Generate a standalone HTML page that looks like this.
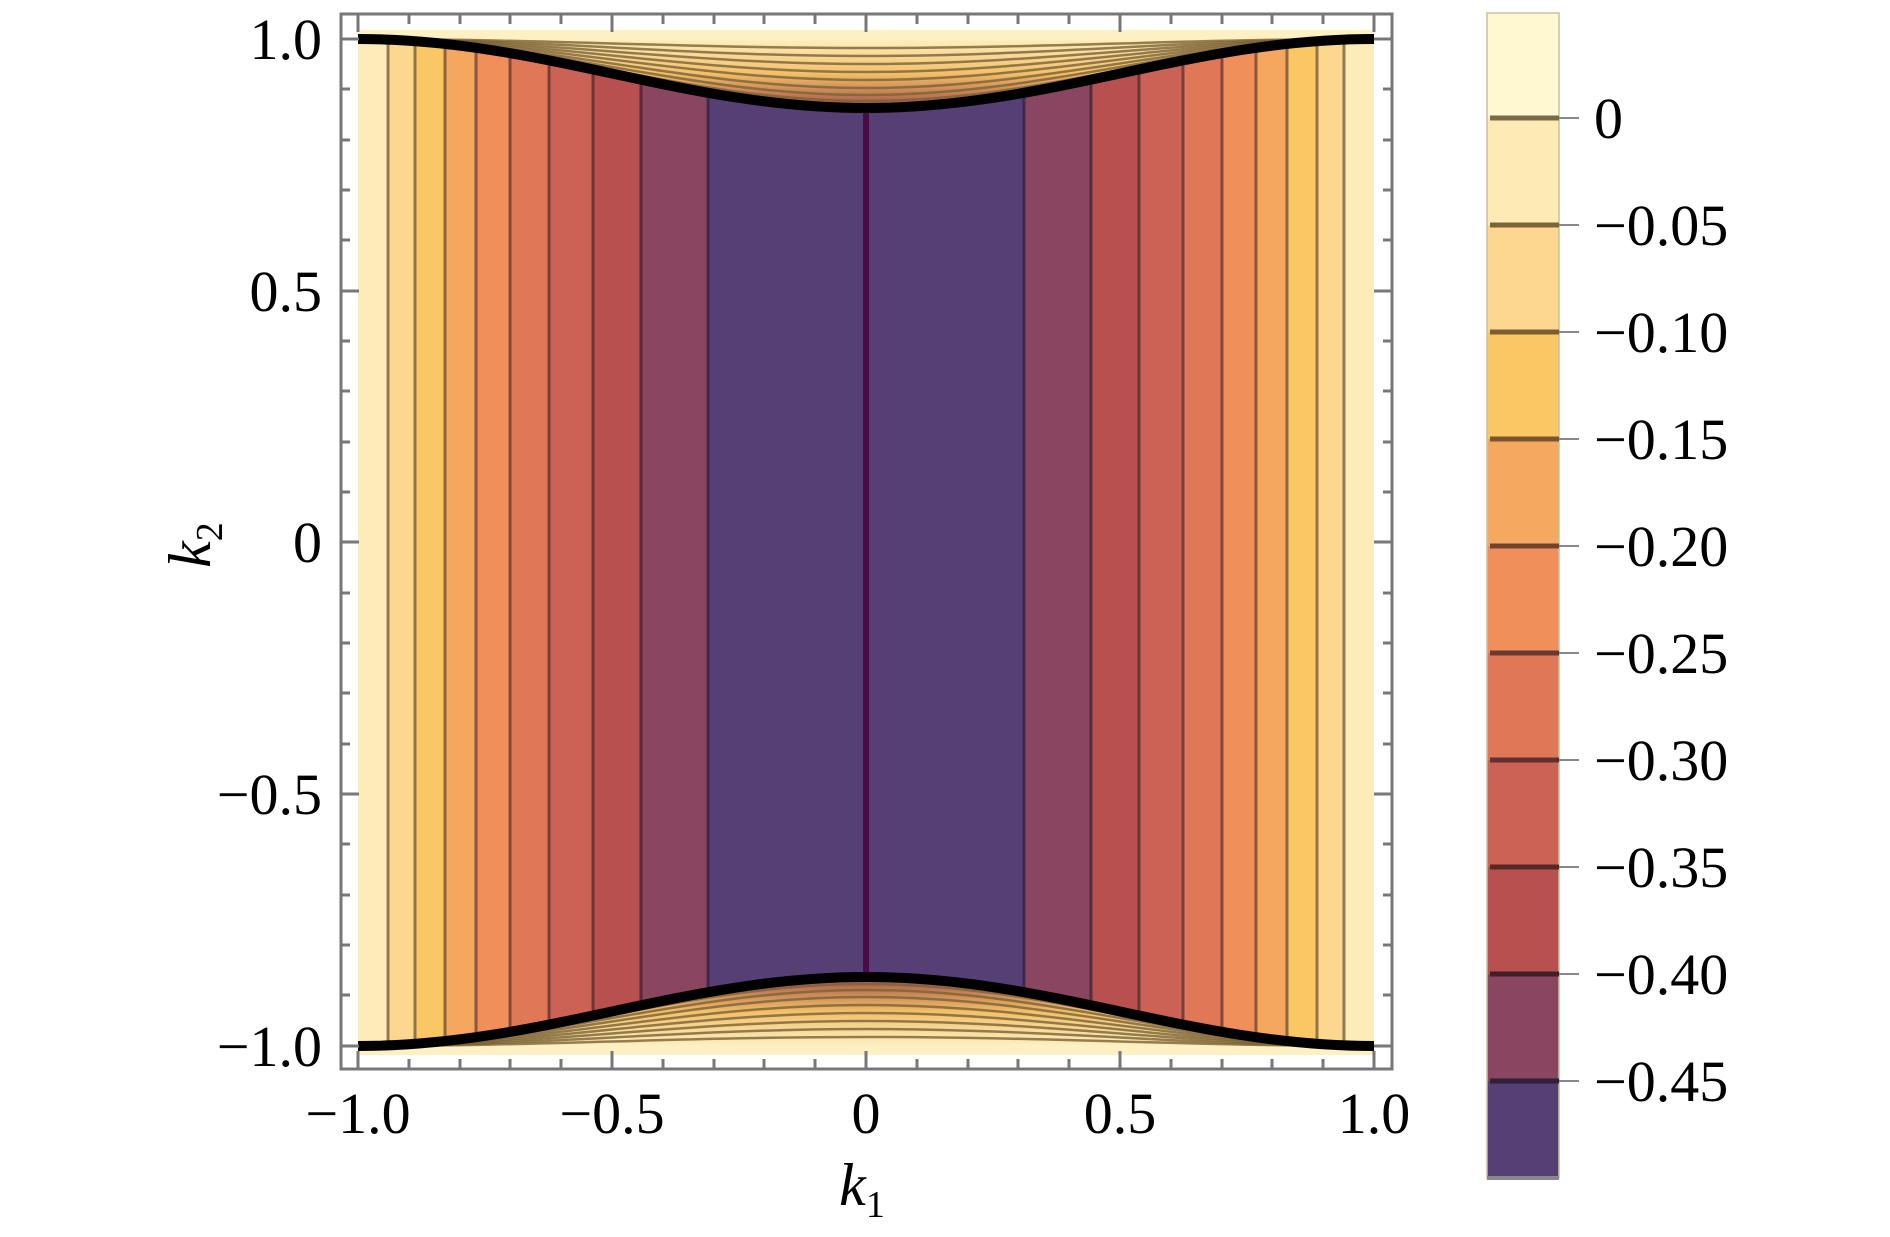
<!DOCTYPE html>
<html><head><meta charset="utf-8"><style>
html,body{margin:0;padding:0;background:#fff;}
svg{display:block;}
text{font-family:"Liberation Serif",serif;fill:#000;}
</style></head><body>
<svg width="1890" height="1237" viewBox="0 0 1890 1237" xmlns="http://www.w3.org/2000/svg">
<defs>
<linearGradient id="gt" x1="0" y1="39" x2="0" y2="108" gradientUnits="userSpaceOnUse">
<stop offset="0" stop-color="#fdf0c2"/><stop offset="0.5" stop-color="#f3c06a"/><stop offset="1" stop-color="#a05048"/>
</linearGradient>
<linearGradient id="gb" x1="0" y1="1046" x2="0" y2="977" gradientUnits="userSpaceOnUse">
<stop offset="0" stop-color="#fdf0c2"/><stop offset="0.5" stop-color="#f3c06a"/><stop offset="1" stop-color="#a05048"/>
</linearGradient>
</defs>
<g>
<rect x="358" y="39" width="30" height="1007" fill="#fdecba"/>
<rect x="388" y="39" width="27" height="1007" fill="#fdd690"/>
<rect x="415" y="39" width="30" height="1007" fill="#fbc765"/>
<rect x="445" y="39" width="31" height="1007" fill="#f5a760"/>
<rect x="476" y="39" width="34" height="1007" fill="#f08f5a"/>
<rect x="510" y="39" width="39" height="1007" fill="#e07858"/>
<rect x="549" y="39" width="44" height="1007" fill="#cc6255"/>
<rect x="593" y="39" width="48" height="1007" fill="#b85050"/>
<rect x="641" y="39" width="67" height="1007" fill="#8a4560"/>
<rect x="708" y="39" width="316" height="1007" fill="#553f75"/>
<rect x="1024" y="39" width="67" height="1007" fill="#8a4560"/>
<rect x="1091" y="39" width="48" height="1007" fill="#b85050"/>
<rect x="1139" y="39" width="44" height="1007" fill="#cc6255"/>
<rect x="1183" y="39" width="39" height="1007" fill="#e07858"/>
<rect x="1222" y="39" width="34" height="1007" fill="#f08f5a"/>
<rect x="1256" y="39" width="31" height="1007" fill="#f5a760"/>
<rect x="1287" y="39" width="30" height="1007" fill="#fbc765"/>
<rect x="1317" y="39" width="27" height="1007" fill="#fdd690"/>
<rect x="1344" y="39" width="30" height="1007" fill="#fdecba"/>
</g>
<g stroke-width="3" stroke-opacity="0.75">
<line x1="388" y1="39" x2="388" y2="1046" stroke="#6a5a35"/>
<line x1="415" y1="39" x2="415" y2="1046" stroke="#6a5a35"/>
<line x1="445" y1="39" x2="445" y2="1046" stroke="#6a4a30"/>
<line x1="476" y1="39" x2="476" y2="1046" stroke="#6a4030"/>
<line x1="510" y1="39" x2="510" y2="1046" stroke="#603530"/>
<line x1="549" y1="39" x2="549" y2="1046" stroke="#5a3030"/>
<line x1="593" y1="39" x2="593" y2="1046" stroke="#502828"/>
<line x1="641" y1="39" x2="641" y2="1046" stroke="#402030"/>
<line x1="708" y1="39" x2="708" y2="1046" stroke="#302040"/>
<line x1="1024" y1="39" x2="1024" y2="1046" stroke="#302040"/>
<line x1="1091" y1="39" x2="1091" y2="1046" stroke="#402030"/>
<line x1="1139" y1="39" x2="1139" y2="1046" stroke="#502828"/>
<line x1="1183" y1="39" x2="1183" y2="1046" stroke="#5a3030"/>
<line x1="1222" y1="39" x2="1222" y2="1046" stroke="#603530"/>
<line x1="1256" y1="39" x2="1256" y2="1046" stroke="#6a4030"/>
<line x1="1287" y1="39" x2="1287" y2="1046" stroke="#6a4a30"/>
<line x1="1317" y1="39" x2="1317" y2="1046" stroke="#6a5a35"/>
<line x1="1344" y1="39" x2="1344" y2="1046" stroke="#6a5a35"/>
</g>
<line x1="866" y1="39" x2="866" y2="1046" stroke="#4a0a45" stroke-width="6"/>
<path d="M358,30 L358,39 C543,39 681,108 866,108 C1051,108 1189,39 1374,39 L1374,30 Z" fill="url(#gt)"/>
<path d="M358,1055 L358,1046 C543,1046 681,977 866,977 C1051,977 1189,1046 1374,1046 L1374,1055 Z" fill="url(#gb)"/>
<g fill="none" stroke="#7a6235" stroke-width="2.5" stroke-opacity="0.8">
<path d="M358,39 C543,39 681,48 866,48 C1051,48 1189,39 1374,39"/>
<path d="M358,39 C543,39 681,56 866,56 C1051,56 1189,39 1374,39"/>
<path d="M358,39 C543,39 681,64 866,64 C1051,64 1189,39 1374,39"/>
<path d="M358,39 C543,39 681,72 866,72 C1051,72 1189,39 1374,39"/>
<path d="M358,39 C543,39 681,80 866,80 C1051,80 1189,39 1374,39"/>
<path d="M358,39 C543,39 681,88 866,88 C1051,88 1189,39 1374,39"/>
<path d="M358,39 C543,39 681,95 866,95 C1051,95 1189,39 1374,39"/>
<path d="M358,39 C543,39 681,101 866,101 C1051,101 1189,39 1374,39"/>
<path d="M358,1046 C543,1046 681,1037 866,1037 C1051,1037 1189,1046 1374,1046"/>
<path d="M358,1046 C543,1046 681,1029 866,1029 C1051,1029 1189,1046 1374,1046"/>
<path d="M358,1046 C543,1046 681,1021 866,1021 C1051,1021 1189,1046 1374,1046"/>
<path d="M358,1046 C543,1046 681,1013 866,1013 C1051,1013 1189,1046 1374,1046"/>
<path d="M358,1046 C543,1046 681,1005 866,1005 C1051,1005 1189,1046 1374,1046"/>
<path d="M358,1046 C543,1046 681,997 866,997 C1051,997 1189,1046 1374,1046"/>
<path d="M358,1046 C543,1046 681,990 866,990 C1051,990 1189,1046 1374,1046"/>
<path d="M358,1046 C543,1046 681,984 866,984 C1051,984 1189,1046 1374,1046"/>
</g>
<g fill="none" stroke="#000" stroke-width="10">
<path d="M358,39 C543,39 681,108 866,108 C1051,108 1189,39 1374,39"/>
<path d="M358,1046 C543,1046 681,977 866,977 C1051,977 1189,1046 1374,1046"/>
</g>
<rect x="341" y="14" width="1051" height="1055" fill="none" stroke="#777" stroke-width="3"/>
<g stroke="#777" stroke-width="3">
<path d="M358,1069v-18M612,1069v-18M866,1069v-18M1120,1069v-18M1374,1069v-18M358,14v18M612,14v18M866,14v18M1120,14v18M1374,14v18"/>
<path d="M409,1069v-10M460,1069v-10M510,1069v-10M561,1069v-10M663,1069v-10M714,1069v-10M764,1069v-10M815,1069v-10M917,1069v-10M968,1069v-10M1018,1069v-10M1069,1069v-10M1171,1069v-10M1222,1069v-10M1272,1069v-10M1323,1069v-10M409,14v10M460,14v10M510,14v10M561,14v10M663,14v10M714,14v10M764,14v10M815,14v10M917,14v10M968,14v10M1018,14v10M1069,14v10M1171,14v10M1222,14v10M1272,14v10M1323,14v10"/>
<path d="M341,39h18M341,291h18M341,542h18M341,794h18M341,1046h18M1392,39h-18M1392,291h-18M1392,542h-18M1392,794h-18M1392,1046h-18"/>
<path d="M341,89h9M341,140h9M341,190h9M341,240h9M341,341h9M341,391h9M341,442h9M341,492h9M341,593h9M341,643h9M341,693h9M341,744h9M341,844h9M341,895h9M341,945h9M341,995h9M1392,89h-9M1392,140h-9M1392,190h-9M1392,240h-9M1392,341h-9M1392,391h-9M1392,442h-9M1392,492h-9M1392,593h-9M1392,643h-9M1392,693h-9M1392,744h-9M1392,844h-9M1392,895h-9M1392,945h-9M1392,995h-9"/>
</g>
<g font-size="58" text-anchor="end">
<text x="322" y="59">1.0</text>
<text x="322" y="311">0.5</text>
<text x="322" y="562">0</text>
<text x="322" y="814">−0.5</text>
<text x="322" y="1066">−1.0</text>
</g>
<g font-size="58" text-anchor="middle">
<text x="358" y="1133">−1.0</text>
<text x="612" y="1133">−0.5</text>
<text x="866" y="1133">0</text>
<text x="1120" y="1133">0.5</text>
<text x="1374" y="1133">1.0</text>
</g>
<text x="862" y="1205" font-size="60" font-style="italic" text-anchor="middle">k<tspan font-size="38" font-style="normal" dy="12">1</tspan></text>
<text transform="translate(210,545) rotate(-90)" font-size="60" font-style="italic" text-anchor="middle">k<tspan font-size="38" font-style="normal" dy="12">2</tspan></text>
<g>
<rect x="1487" y="13" width="72" height="105" fill="#fff8d0"/>
<rect x="1487" y="118" width="72" height="107" fill="#fdebb5"/>
<rect x="1487" y="225" width="72" height="107" fill="#fdd68f"/>
<rect x="1487" y="332" width="72" height="107" fill="#fbc765"/>
<rect x="1487" y="439" width="72" height="107" fill="#f5a860"/>
<rect x="1487" y="546" width="72" height="107" fill="#f08f5a"/>
<rect x="1487" y="653" width="72" height="107" fill="#e07858"/>
<rect x="1487" y="760" width="72" height="107" fill="#cc6255"/>
<rect x="1487" y="867" width="72" height="107" fill="#b85050"/>
<rect x="1487" y="974" width="72" height="107" fill="#8a4560"/>
<rect x="1487" y="1081" width="72" height="97" fill="#553f75"/>
<rect x="1487" y="13" width="72" height="1165" fill="none" stroke="#c8c0a0" stroke-width="1.5"/>
<line x1="1487" y1="1178" x2="1559" y2="1178" stroke="#888" stroke-width="4"/>
</g>
<g stroke-width="5">
<line x1="1490" y1="118" x2="1559" y2="118" stroke="#7a6a48"/>
<line x1="1490" y1="225" x2="1559" y2="225" stroke="#7a6438"/>
<line x1="1490" y1="332" x2="1559" y2="332" stroke="#7a5e30"/>
<line x1="1490" y1="439" x2="1559" y2="439" stroke="#7a5530"/>
<line x1="1490" y1="546" x2="1559" y2="546" stroke="#704530"/>
<line x1="1490" y1="653" x2="1559" y2="653" stroke="#6a3a30"/>
<line x1="1490" y1="760" x2="1559" y2="760" stroke="#603030"/>
<line x1="1490" y1="867" x2="1559" y2="867" stroke="#552828"/>
<line x1="1490" y1="974" x2="1559" y2="974" stroke="#402028"/>
<line x1="1490" y1="1081" x2="1559" y2="1081" stroke="#302038"/>
</g>
<g stroke="#888" stroke-width="2">
<path d="M1559,118h20M1559,225h20M1559,332h20M1559,439h20M1559,546h20M1559,653h20M1559,760h20M1559,867h20M1559,974h20M1559,1081h20"/>
</g>
<g font-size="58">
<text x="1594" y="138">0</text>
<text x="1594" y="245">−0.05</text>
<text x="1594" y="352">−0.10</text>
<text x="1594" y="459">−0.15</text>
<text x="1594" y="566">−0.20</text>
<text x="1594" y="673">−0.25</text>
<text x="1594" y="780">−0.30</text>
<text x="1594" y="887">−0.35</text>
<text x="1594" y="994">−0.40</text>
<text x="1594" y="1101">−0.45</text>
</g>
</svg>
</body></html>
